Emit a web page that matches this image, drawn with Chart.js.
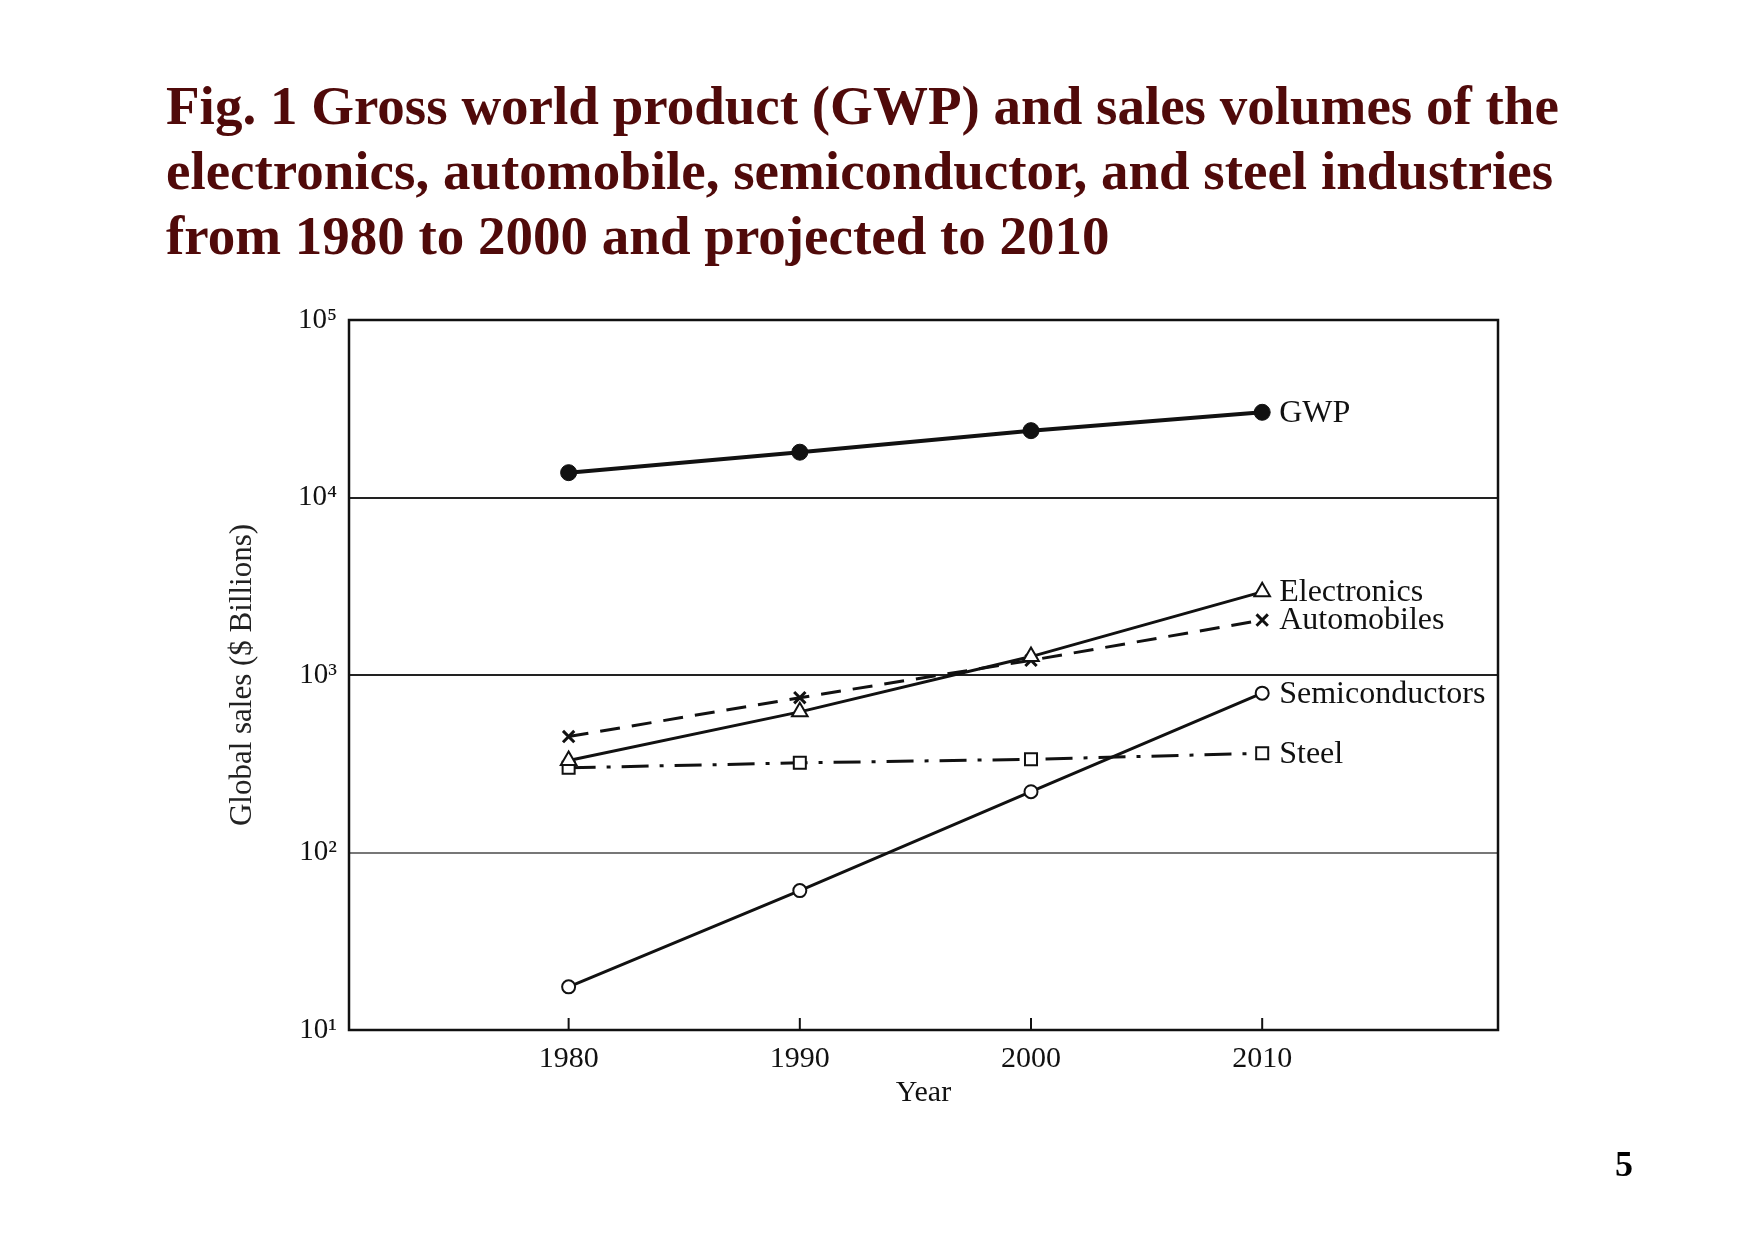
<!DOCTYPE html>
<html>
<head>
<meta charset="utf-8">
<script src="https://cdn.jsdelivr.net/npm/chart.js@4.4.0/dist/chart.umd.min.js"></script>
<style>
html,body{margin:0;padding:0;background:#fff;width:1754px;height:1239px;overflow:hidden;}
#title{position:absolute;left:166px;top:73px;font:bold 55px/65px "Liberation Serif","Times New Roman",serif;color:#500a0a;white-space:nowrap;}
#page{position:absolute;left:1615px;top:1144px;font:bold 36px/40px "Liberation Serif","Times New Roman",serif;color:#000;}
#c{position:absolute;left:0;top:0;}
</style>
</head>
<body>
<div id="title">Fig. 1 Gross world product (GWP) and sales volumes of the<br>electronics, automobile, semiconductor, and steel industries<br>from 1980 to 2000 and projected to 2010</div>
<canvas id="c" width="1754" height="1239"></canvas>
<div id="page">5</div>
<script>
// ---- data ----
const years = [1980, 1990, 2000, 2010];
const seriesNames = ['GWP', 'Electronics', 'Automobiles', 'Semiconductors', 'Steel'];
const gwp = [13800, 18000, 23800, 30200];
const electronics = [330, 620, 1270, 2940];
const automobiles = [450, 745, 1210, 2040];
const semiconductors = [17.5, 61, 220, 790];
const steel = [300, 320, 335, 362];
const yTickValues = [10, 100, 1000, 10000, 100000];
const yTickLabels = ['10\u00B9', '10\u00B2', '10\u00B3', '10\u2074', '10\u2075'];
const xTickValues = [1980, 1990, 2000, 2010];
const xTitle = 'Year';
const yTitle = 'Global sales ($ Billions)';

const FONT = '"Liberation Serif","Times New Roman",serif';
const INK = '#111';

function pts(arr) { return years.map((x, i) => ({x: x, y: arr[i]})); }

const datasets = [
  {label: seriesNames[0], data: pts(gwp), borderColor: INK, borderWidth: 4,
   pointStyle: 'circle', pointRadius: 8, pointBackgroundColor: INK, pointBorderColor: INK, pointBorderWidth: 1},
  {label: seriesNames[1], data: pts(electronics), borderColor: INK, borderWidth: 3,
   pointStyle: 'triangle', pointRadius: 9, pointBackgroundColor: '#fff', pointBorderColor: INK, pointBorderWidth: 2},
  {label: seriesNames[2], data: pts(automobiles), borderColor: INK, borderWidth: 3, borderDash: [20, 12],
   pointStyle: 'crossRot', pointRadius: 8, pointBackgroundColor: INK, pointBorderColor: INK, pointBorderWidth: 3},
  {label: seriesNames[3], data: pts(semiconductors), borderColor: INK, borderWidth: 3,
   pointStyle: 'circle', pointRadius: 6.5, pointBackgroundColor: '#fff', pointBorderColor: INK, pointBorderWidth: 2},
  {label: seriesNames[4], data: pts(steel), borderColor: INK, borderWidth: 3, borderDash: [27, 11, 4, 11],
   pointStyle: 'rect', pointRadius: 8.5, pointBackgroundColor: '#fff', pointBorderColor: INK, pointBorderWidth: 2}
];
datasets.forEach(d => { d.fill = false; d.tension = 0; });

const framePlugin = {
  id: 'frame',
  afterDatasetsDraw(chart) {
    const ctx = chart.ctx;
    ctx.save();
    ctx.font = '32px ' + FONT;
    ctx.fillStyle = INK;
    ctx.textAlign = 'left';
    ctx.textBaseline = 'middle';
    chart.data.datasets.forEach((ds, i) => {
      const meta = chart.getDatasetMeta(i);
      const last = meta.data[meta.data.length - 1];
      ctx.fillText(ds.label, last.x + 17, last.y + 1);
    });
    ctx.restore();
  },
  afterDraw(chart) {
    const {ctx, chartArea: a} = chart;
    ctx.save();
    ctx.strokeStyle = INK;
    ctx.lineWidth = 2.5;
    ctx.strokeRect(a.left, a.top, a.right - a.left, a.bottom - a.top);
    const xs = chart.scales.x;
    ctx.lineWidth = 2;
    xs.ticks.forEach(t => {
      const px = xs.getPixelForValue(t.value);
      ctx.beginPath();
      ctx.moveTo(px, a.bottom);
      ctx.lineTo(px, a.bottom - 12);
      ctx.stroke();
    });
    ctx.restore();
  }
};

new Chart(document.getElementById('c'), {
  type: 'line',
  data: {datasets: datasets},
  options: {
    responsive: false,
    animation: false,
    devicePixelRatio: 1,
    layout: {padding: {left: 0, top: 320, right: 256, bottom: 0}},
    plugins: {legend: {display: false}, tooltip: {enabled: false}, title: {display: false}},
    scales: {
      x: {
        type: 'linear', position: 'bottom', min: 1970.5, max: 2020.2,
        afterBuildTicks: s => { s.ticks = xTickValues.map(v => ({value: v})); },
        afterFit: s => { s.height = 209; },
        grid: {display: false},
        border: {display: false},
        ticks: {color: INK, font: {family: FONT, size: 30}, padding: 3, autoSkip: false, maxRotation: 0,
                callback: v => String(v)},
        title: {display: true, text: xTitle, color: INK, font: {family: FONT, size: 30},
                padding: {top: 0, bottom: 128}}
      },
      y: {
        type: 'logarithmic', position: 'left', min: 10, max: 100000,
        afterBuildTicks: s => { s.ticks = yTickValues.map(v => ({value: v})); },
        afterFit: s => { s.width = 349; },
        grid: {drawTicks: false, lineWidth: 2,
               color: c => (c.tick && c.tick.value === 100) ? '#777' : '#222'},
        border: {display: false},
        ticks: {color: INK, font: {family: FONT, size: 29}, padding: 12, autoSkip: false,
                callback: v => { const k = yTickValues.indexOf(v); return k >= 0 ? yTickLabels[k] : ''; }},
        title: {display: true, text: yTitle, color: '#222', font: {family: FONT, size: 31},
                padding: {top: 224, bottom: 0}}
      }
    }
  },
  plugins: [framePlugin]
});
</script>
</body>
</html>
